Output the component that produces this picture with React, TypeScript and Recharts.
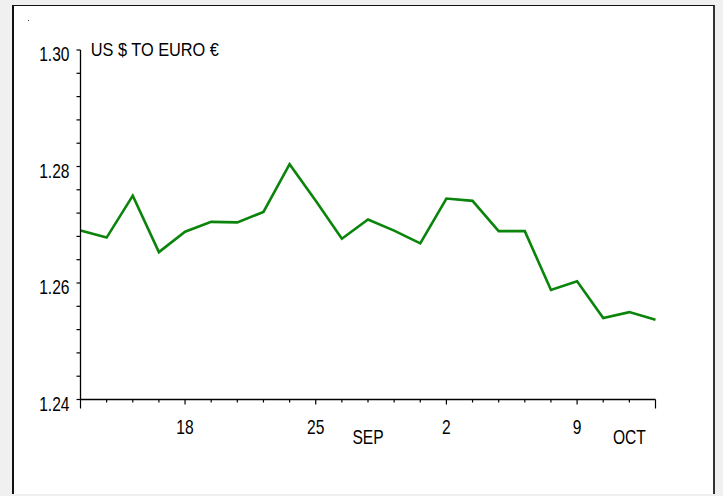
import React from "react";
import { Line, LineChart, XAxis, YAxis } from "recharts";

// trading days, 12 Sep - 12 Oct
const dates = [
  "Sep 12", "Sep 13", "Sep 14", "Sep 15",
  "Sep 18", "Sep 19", "Sep 20", "Sep 21", "Sep 22",
  "Sep 25", "Sep 26", "Sep 27", "Sep 28", "Sep 29",
  "Oct 2", "Oct 3", "Oct 4", "Oct 5", "Oct 6",
  "Oct 9", "Oct 10", "Oct 11", "Oct 12",
];

const rates = [
  1.269, 1.2678, 1.275, 1.2653,
  1.2688, 1.2705, 1.2704, 1.2722, 1.2804,
  1.2741, 1.2676, 1.2709, 1.269, 1.2668,
  1.2745, 1.2741, 1.2689, 1.2689, 1.2588,
  1.2603, 1.254, 1.255, 1.2537,
];

const dayLabels: Record<string, string> = { "Sep 18": "18", "Sep 25": "25", "Oct 2": "2", "Oct 9": "9" };
const monthLabels: Record<string, string> = { "Sep 27": "SEP", "Oct 11": "OCT" };

const yTicks = [
  1.24, 1.244, 1.248, 1.252, 1.256, 1.26, 1.264, 1.268, 1.272, 1.276, 1.28, 1.284, 1.288, 1.292, 1.296, 1.3,
];
const yLabels = ["1.24", "1.26", "1.28", "1.30"];

const title = "US $ TO EURO €";

const data = dates.map((date, i) => ({ date, rate: rates[i] }));

const font = "'Liberation Sans', Arial, sans-serif";
const squeeze = 0.78;

function DayTick(props: any) {
  const { x, y, payload, index } = props;
  const key = String(payload.value);
  const isEnd = index === 0 || index === dates.length - 1;
  const day = dayLabels[key];
  const month = monthLabels[key];
  const len = isEnd ? 9 : day ? 5 : 3;
  return (
    <g>
      <line x1={x} x2={x} y1={y} y2={y + len} stroke="#000" strokeWidth={1.2} />
      {day ? (
        <text
          transform={`translate(${x},${y + 34}) scale(${squeeze},1)`}
          textAnchor="middle"
          fontSize={20}
          fontFamily={font}
          fill="#000"
        >
          {day}
        </text>
      ) : null}
      {month ? (
        <text
          transform={`translate(${x},${y + 44}) scale(${squeeze},1)`}
          textAnchor="middle"
          fontSize={20}
          fontFamily={font}
          fill="#000"
        >
          {month}
        </text>
      ) : null}
    </g>
  );
}

function RateTick(props: any) {
  const { x, y, payload } = props;
  const label = Number(payload.value).toFixed(2);
  const major = Math.abs(Number(payload.value) * 100 - Math.round(Number(payload.value) * 100)) < 1e-6;
  if (!major || !yLabels.includes(label)) return <g />;
  return (
    <text
      transform={`translate(${x},${y + 11}) scale(${squeeze},1)`}
      textAnchor="end"
      fontSize={20}
      fontFamily={font}
      fill="#000"
    >
      {label}
    </text>
  );
}

export default function App() {
  return (
    <div style={{ position: "absolute", left: 0, top: 0, width: 723, height: 496, background: "#f0f0f0", overflow: "hidden" }}>
      <div
        style={{
          position: "absolute",
          left: 12,
          top: 5,
          width: 699,
          height: 488,
          background: "#fff",
          borderTop: "1px solid #111",
          borderLeft: "2px solid #111",
          borderRight: "2px solid #333",
        }}
      />
      <div style={{ position: "absolute", left: 0, top: 0 }}>
        <LineChart width={723} height={496} data={data} margin={{ top: 50, right: 67.5, bottom: 0, left: 0 }}>
          <XAxis
            dataKey="date"
            height={96.5}
            interval={0}
            tickSize={0}
            tickMargin={0}
            tickLine={false}
            axisLine={{ stroke: "#000", strokeWidth: 1.3 }}
            tick={DayTick}
          />
          <YAxis
            type="number"
            domain={[1.24, 1.3]}
            ticks={yTicks}
            interval={0}
            width={80.5}
            tickSize={4}
            tickMargin={7}
            tickLine={{ stroke: "#000", strokeWidth: 1.2 }}
            axisLine={{ stroke: "#000", strokeWidth: 1.3 }}
            tick={RateTick}
          />
          <Line
            type="linear"
            dataKey="rate"
            stroke="#0a840a"
            strokeWidth={2.6}
            dot={false}
            activeDot={false}
            isAnimationActive={false}
          />
        </LineChart>
      </div>
      <svg width={723} height={496} style={{ position: "absolute", left: 0, top: 0, pointerEvents: "none" }}>
        <rect x={28} y={20} width={1} height={1} fill="#444" />
        <text
          transform="translate(90.7,56) scale(0.86,1)"
          fontSize={19}
          fontFamily={font}
          fill="#000"
        >
          {title}
        </text>
      </svg>
    </div>
  );
}
